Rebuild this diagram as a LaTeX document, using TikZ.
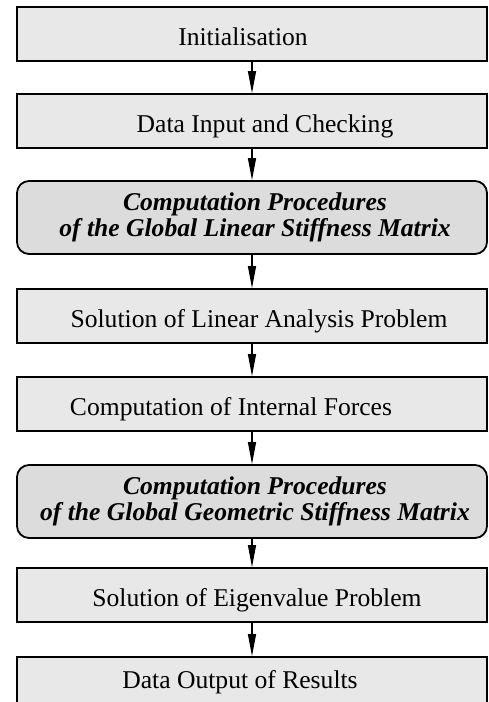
\documentclass[tikz,border=0pt]{standalone}
\usepackage{fontspec}
\setmainfont{Liberation Serif}
\usetikzlibrary{arrows.meta}
\definecolor{boxfill}{HTML}{E8E8E8}
\definecolor{roundfill}{HTML}{DCDCDC}
\tikzset{
  stepbox/.style={draw=black, line width=1.8pt, fill=boxfill, rectangle, minimum width=470pt, inner sep=0pt},
  procbox/.style={draw=black, line width=1.8pt, fill=roundfill, rectangle, rounded corners=12pt, minimum width=470pt, minimum height=73pt, inner sep=0pt},
  label/.style={font=\fontsize{25.6}{26.5}\selectfont, inner sep=0pt, anchor=base},
  boldlabel/.style={font=\fontsize{25.6}{26.5}\selectfont\bfseries\itshape, inner sep=0pt, align=center, anchor=center},
  flow/.style={line width=1.2pt, -{Triangle[length=22pt, width=8pt]}}
}
\begin{document}
\begin{tikzpicture}[x=1pt, y=-1pt]
\useasboundingbox (0,0) rectangle (488,702);
\clip (0,0) rectangle (488,702);
\node[stepbox, minimum height=54pt] (b1) at (252,34) {};
\node[stepbox, minimum height=54pt] (b2) at (252,121) {};
\node[procbox] (b3) at (252,217.5) {};
\node[stepbox, minimum height=54pt] (b4) at (252,316) {};
\node[stepbox, minimum height=54pt] (b5) at (252,404) {};
\node[procbox] (b6) at (252,501.5) {};
\node[stepbox, minimum height=54pt] (b7) at (252,595) {};
\node[stepbox, minimum height=60pt] (b8) at (252,687) {};
\node[label] (t1) at (243,45.5) {Initialisation};
\node[label] (t2) at (265,132.5) {Data Input and Checking};
\node[boldlabel] (t3) at (255,217.5) {Computation Procedures\\of the Global Linear Stiffness Matrix};
\node[label] (t4) at (259,327.5) {Solution of Linear Analysis Problem};
\node[label] (t5) at (231,415.5) {Computation of Internal Forces};
\node[boldlabel] (t6) at (255,501.5) {Computation Procedures\\of the Global Geometric Stiffness Matrix};
\node[label] (t7) at (257,606.5) {Solution of Eigenvalue Problem};
\node[label] (t8) at (240,688) {Data Output of Results};
\draw[flow] (b1.south) -- (b2.north);
\draw[flow] (b2.south) -- (b3.north);
\draw[flow] (b3.south) -- (b4.north);
\draw[flow] (b4.south) -- (b5.north);
\draw[flow] (b5.south) -- (b6.north);
\draw[flow] (b6.south) -- (b7.north);
\draw[flow] (b7.south) -- (b8.north);
\end{tikzpicture}
\end{document}
